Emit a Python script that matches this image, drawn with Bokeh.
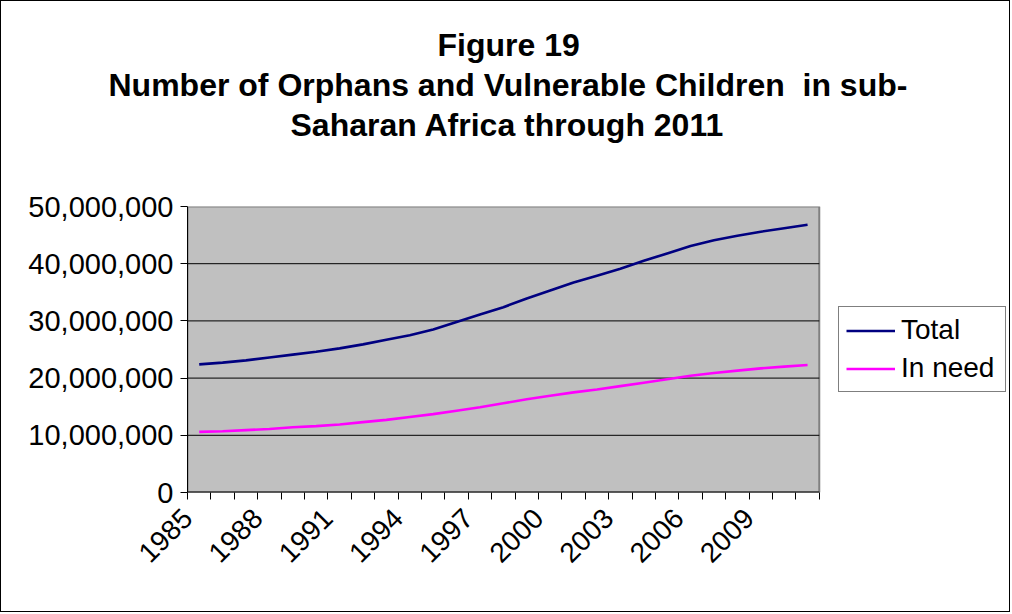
import math

from bokeh.embed import file_html
from bokeh.models import (ColumnDataSource, FixedTicker, Legend, LegendItem,
                          NumeralTickFormatter, Range1d, Title)
from bokeh.plotting import figure
from bokeh.resources import INLINE

# Orphans and vulnerable children, sub-Saharan Africa
years = list(range(1985, 2012))
total = [22_400_000, 22_700_000, 23_100_000, 23_600_000, 24_100_000, 24_600_000,
         25_200_000, 25_900_000, 26_700_000, 27_500_000, 28_500_000, 29_800_000,
         31_100_000, 32_400_000, 33_900_000, 35_300_000, 36_700_000, 37_900_000,
         39_100_000, 40_500_000, 41_800_000, 43_100_000, 44_100_000, 44_900_000,
         45_600_000, 46_200_000, 46_800_000]
in_need = [10_600_000, 10_700_000, 10_900_000, 11_100_000, 11_400_000, 11_600_000,
           11_900_000, 12_300_000, 12_700_000, 13_200_000, 13_700_000, 14_300_000,
           14_900_000, 15_600_000, 16_300_000, 16_900_000, 17_500_000, 18_000_000,
           18_600_000, 19_200_000, 19_800_000, 20_400_000, 20_900_000, 21_300_000,
           21_700_000, 22_000_000, 22_300_000]
year_labels = ["1985", "1988", "1991", "1994", "1997", "2000", "2003", "2006", "2009"]
y_ticks = [0, 10_000_000, 20_000_000, 30_000_000, 40_000_000, 50_000_000]
title_lines = ["Figure 19",
               "Number of Orphans and Vulnerable Children\u00a0 in sub-",
               "Saharan Africa through 2011"]
# left edge of each title line, in pixels from the left of the page
title_left = [437, 108, 290]

FONT = "Liberation Sans"
N = len(years)
Y_MAX = y_ticks[-1]

# Layout in pixels: the plot area is 631 px wide for the 27 year slots, and the
# frame carries on to the right so the legend can sit beside the plot area.
LEFT, PLOT_W, RIGHT_PAD = 187, 631, 4
FRAME_W = 1012 - LEFT - RIGHT_PAD
x_end = N * FRAME_W / PLOT_W

# categories sit in the middle of unit-wide slots
xpos = [i + 0.5 for i in range(N)]
src = ColumnDataSource(dict(x=xpos, year=years, total=total, in_need=in_need))

p = figure(width=1010, height=612, output_backend="svg", toolbar_location=None,
           x_range=Range1d(0, x_end), y_range=Range1d(0, Y_MAX),
           min_border_left=LEFT - 1, min_border_right=RIGHT_PAD - 2,
           min_border_top=205, min_border_bottom=121)
p.styles = {"border": "1px solid black"}
p.title.visible = False
p.background_fill_color = "white"
p.border_fill_color = "white"
p.outline_line_color = None

# title panels stack upwards from the frame: a blank spacer first, then the
# three lines from the bottom one up
p.add_layout(Title(text=" ", text_font=FONT, text_font_size="32px",
                   standoff=24.6), "above")
for line, left in zip(reversed(title_lines), reversed(title_left)):
    p.add_layout(Title(text=line, align="left", offset=left - LEFT,
                       standoff=1.6, text_font=FONT, text_font_size="32px",
                       text_font_style="bold", text_color="black"), "above")

# grey plot area with its border
p.quad(left=[0], right=[N], bottom=[0], top=[Y_MAX], fill_color="#C0C0C0",
       line_color="#808080", line_width=2)

# horizontal gridlines across the plot area only
grid_vals = y_ticks[1:-1]
p.segment(x0=[0] * len(grid_vals), x1=[N] * len(grid_vals), y0=grid_vals,
          y1=grid_vals, line_color="black", line_width=1)

# x axis: tick marks between categories, a label every third year
xa = p.xaxis[0]
label_pos = [float(years.index(int(y))) for y in year_labels]
xa.ticker = FixedTicker(ticks=label_pos, minor_ticks=list(range(N + 1)))
xa.major_label_overrides = {pos: lab for pos, lab in zip(label_pos, year_labels)}
xa.major_label_orientation = math.pi / 4
xa.major_tick_out = 0
xa.major_tick_in = 0
xa.minor_tick_out = 7
xa.minor_tick_in = 0
xa.minor_tick_line_color = "black"
xa.axis_line_color = None
xa.major_label_text_font = FONT
xa.major_label_text_font_size = "28px"
xa.major_label_text_color = "black"
xa.major_label_standoff = 14
p.segment(x0=[0], x1=[N], y0=[0], y1=[0], line_color="black", line_width=2)

ya = p.yaxis[0]
ya.ticker = FixedTicker(ticks=y_ticks)
ya.formatter = NumeralTickFormatter(format="0,0")
ya.major_tick_out = 7
ya.major_tick_in = 0
ya.minor_tick_line_color = None
ya.major_tick_line_color = "black"
ya.axis_line_color = "black"
ya.major_label_text_font = FONT
ya.major_label_text_font_size = "29px"
ya.major_label_text_color = "black"
ya.major_label_standoff = 7

p.grid.visible = False

r_total = p.line("x", "total", source=src, line_color="#000080", line_width=2.6)
r_need = p.line("x", "in_need", source=src, line_color="#FF00FF", line_width=2.6)

legend = Legend(items=[LegendItem(label="Total", renderers=[r_total]),
                       LegendItem(label="In need", renderers=[r_need])],
                location=(PLOT_W + 20, 100), orientation="vertical",
                label_text_font=FONT, label_text_font_size="28px",
                label_text_color="black",
                glyph_width=49, glyph_height=27, label_height=27,
                label_width=97, label_standoff=6, spacing=6, padding=7,
                margin=0, border_line_color="black", border_line_width=1,
                background_fill_color="white", background_fill_alpha=1)
p.add_layout(legend, "center")

open("out.html", "w").write(file_html(p, INLINE))
